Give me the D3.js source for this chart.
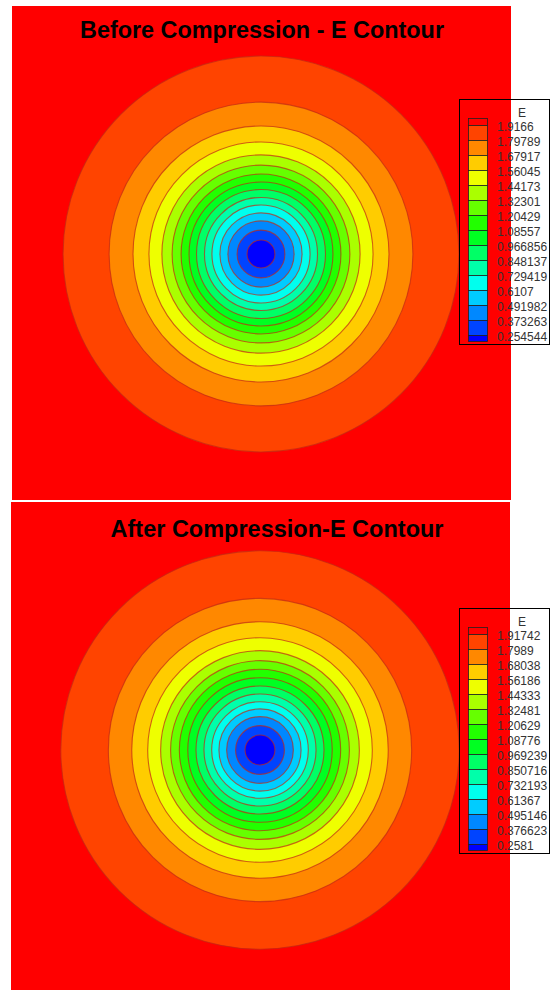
<!DOCTYPE html>
<html>
<head>
<meta charset="utf-8">
<script src="https://cdn.jsdelivr.net/npm/d3@7"></script>
<style>
  html, body { margin: 0; padding: 0; background: #ffffff; }
  svg { display: block; }
</style>
</head>
<body>
<svg id="chart" width="556" height="990"></svg>
<script>
// Contour levels of E, lowest to highest (legend values)
const levelsBefore = [0.254544, 0.373263, 0.491982, 0.6107, 0.729419, 0.848137, 0.966856,
  1.08557, 1.20429, 1.32301, 1.44173, 1.56045, 1.67917, 1.79789, 1.9166];
const levelsAfter = [0.2581, 0.376623, 0.495146, 0.61367, 0.732193, 0.850716, 0.969239,
  1.08776, 1.20629, 1.32481, 1.44333, 1.56186, 1.68038, 1.7989, 1.91742];

// Radial distance (normalised domain units, half-width = 1) where E reaches each level
const radiusBefore = [0.056, 0.096, 0.133, 0.165, 0.197, 0.227, 0.259, 0.289, 0.321,
  0.357, 0.398, 0.450, 0.514, 0.610, 0.795];
const radiusAfter = [0.060, 0.098, 0.134, 0.165, 0.194, 0.225, 0.257, 0.290, 0.324,
  0.359, 0.399, 0.451, 0.515, 0.609, 0.800];

const titles = ["Before Compression - E Contour", "After Compression-E Contour"];
const legendTitle = "E";

// Rainbow colour map: blue -> cyan -> green -> yellow -> red
const rainbow = d3.scaleLinear()
  .domain([0, 0.25, 0.5, 0.75, 1])
  .range(["#0000ff", "#00ffff", "#00ff00", "#ffff00", "#ff0000"])
  .interpolate(d3.interpolateRgb);

const svg = d3.select("#chart");
const defs = svg.append("defs");

const panels = [
  { id: "before", levels: levelsBefore, radius: radiusBefore, title: titles[0],
    rect: { x: 12, y: 6, w: 499, h: 494 }, cx: 261, cy: 254,
    titleX: 262, titleY: 30, titleW: 364,
    legend: { x: 459, y: 99, w: 90, h: 245 } },
  { id: "after", levels: levelsAfter, radius: radiusAfter, title: titles[1],
    rect: { x: 11, y: 502, w: 499, h: 488 }, cx: 260, cy: 750,
    titleX: 277, titleY: 529, titleW: 333,
    legend: { x: 459, y: 608, w: 90, h: 245 } }
];

panels.forEach(p => {
  const nBands = p.levels.length + 1;
  const colorOf = i => rainbow(i / (nBands - 1));

  // domain [-1, 1] on both axes, equal pixels per unit
  const xs = d3.scaleLinear().domain([-1, 1]).range([p.cx - 249, p.cx + 249]);
  const ys = d3.scaleLinear().domain([-1, 1]).range([p.cy + 249, p.cy - 249]);
  const rs = d3.scaleLinear().domain([0, 1]).range([0, 249]);

  defs.append("clipPath").attr("id", "clip-" + p.id)
    .append("rect")
    .attr("x", p.rect.x).attr("y", p.rect.y)
    .attr("width", p.rect.w).attr("height", p.rect.h);

  const g = svg.append("g").attr("clip-path", `url(#clip-${p.id})`);

  // background band: above the highest level
  g.append("rect")
    .attr("x", p.rect.x).attr("y", p.rect.y)
    .attr("width", p.rect.w).attr("height", p.rect.h)
    .attr("fill", colorOf(nBands - 1));

  // filled contour bands, outermost first
  const rings = p.levels.map((v, i) => ({ v, i, r: p.radius[i] }))
    .sort((a, b) => b.r - a.r);

  g.selectAll("circle.band").data(rings).join("circle")
    .attr("class", "band")
    .attr("cx", xs(0)).attr("cy", ys(0))
    .attr("r", d => rs(d.r))
    .attr("fill", d => colorOf(d.i))
    .attr("stroke", "#c02814")
    .attr("stroke-opacity", 0.7)
    .attr("stroke-width", 1.1);

  // title
  svg.append("text")
    .attr("x", p.titleX).attr("y", p.titleY)
    .attr("text-anchor", "middle")
    .attr("dominant-baseline", "central")
    .attr("font-family", "'Liberation Sans', Arial, sans-serif")
    .attr("font-weight", "bold")
    .attr("font-size", 23)
    .attr("textLength", p.titleW)
    .attr("lengthAdjust", "spacingAndGlyphs")
    .attr("fill", "#000")
    .text(p.title);

  // legend
  const L = p.legend;
  const lg = svg.append("g");
  lg.append("rect")
    .attr("x", L.x + 0.5).attr("y", L.y + 0.5)
    .attr("width", L.w).attr("height", L.h)
    .attr("fill", "none").attr("stroke", "#000").attr("stroke-width", 1);

  lg.append("text")
    .attr("x", L.x + 63).attr("y", L.y + 14)
    .attr("text-anchor", "middle").attr("dominant-baseline", "central")
    .attr("font-family", "'Liberation Sans', Arial, sans-serif")
    .attr("font-size", 12).attr("fill", "#333")
    .text(legendTitle);

  const step = 15;
  const top = L.y + 26;           // first level boundary
  const half = 7;
  const sw = { x: L.x + 9, w: 19 };
  // band index runs from highest (top) to lowest (bottom)
  const bandsTopDown = d3.range(nBands - 1, -1, -1);
  const bandY = d => {
    const k = nBands - 1 - d;       // 0 at top
    if (k === 0) return [top - half, half];
    if (k === nBands - 1) return [top + step * (nBands - 2), 6];
    return [top + step * (k - 1), step];
  };
  lg.selectAll("rect.sw").data(bandsTopDown).join("rect")
    .attr("class", "sw")
    .attr("x", sw.x + 0.5).attr("y", d => bandY(d)[0] + 0.5)
    .attr("width", sw.w).attr("height", d => bandY(d)[1])
    .attr("fill", d => colorOf(d))
    .attr("stroke", "#222").attr("stroke-width", 0.8);

  const labelsTopDown = p.levels.slice().reverse();
  lg.selectAll("text.lab").data(labelsTopDown).join("text")
    .attr("class", "lab")
    .attr("x", L.x + 38)
    .attr("y", (d, i) => top + step * i + 1.5)
    .attr("dominant-baseline", "central")
    .attr("font-family", "'Liberation Sans', Arial, sans-serif")
    .attr("font-size", 12).attr("fill", "#333")
    .text(d => String(d));
});
</script>
</body>
</html>
